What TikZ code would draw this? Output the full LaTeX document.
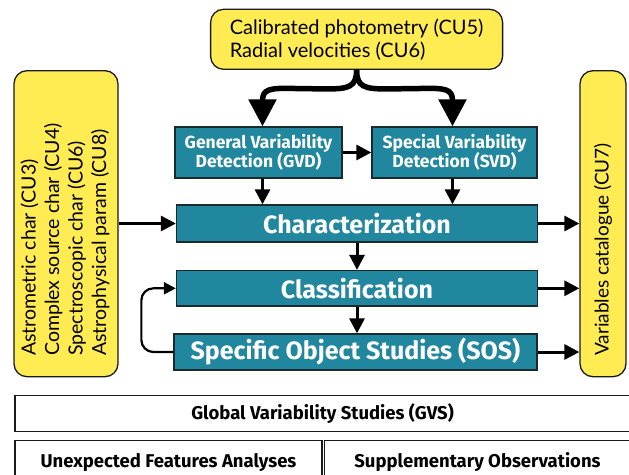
\documentclass[tikz,border=0pt]{standalone}
\usepackage{fontspec}
\setmainfont{Lato}
\newfontfamily\heavyfont{Fira Sans}
\usetikzlibrary{arrows.meta,calc}
\definecolor{tealbox}{HTML}{21879F}
\definecolor{yellowbox}{HTML}{FFEB52}
\definecolor{edge}{HTML}{1A1A1A}
\begin{document}
\begin{tikzpicture}[x=1pt,y=-1pt,
  yel/.style={draw=edge,line width=1.3pt,fill=yellowbox,rounded corners=13pt,inner sep=0pt},
  tbox/.style={draw=edge!85!tealbox,line width=1.3pt,fill=tealbox,text=white,inner sep=0pt,align=center},
  bigtext/.style={font=\heavyfont\bfseries\fontsize{25}{27}\selectfont},
  wbox/.style={draw=edge,line width=1.3pt,fill=white,font=\heavyfont\bfseries\fontsize{18.5}{20}\selectfont,inner sep=0pt},
  arr/.style={line width=3pt,-{Triangle[length=15pt,width=15pt]}},
  looparr/.style={line width=2.2pt,rounded corners=12pt,-{Triangle[length=12pt,width=12pt]}},
  bigarr/.style={line width=5.5pt,-{Triangle[length=27pt,width=27pt]}},
  rottext/.style={rotate=90,anchor=west,align=left,inner sep=0pt}
]
\useasboundingbox (0,0) rectangle (629,474);

% yellow input/output boxes
\node[yel,minimum width=292pt,minimum height=60pt,align=left,font=\fontsize{20}{23}\selectfont] (top) at (356.6,39.3)
  {Calibrated photometry (CU5)\\Radial velocities (CU6)};
\node[yel,minimum width=104pt,minimum height=306pt] (left) at (66,223.7) {};
\node[yel,minimum width=46pt,minimum height=306pt] (right) at (603,223.7) {};
\node[rottext,font=\fontsize{19.5}{23.5}\selectfont] (lefttext) at (65,356)
  {Astrometric char (CU3)\\Complex source char (CU4)\\Spectroscopic char (CU6)\\Astrophysical param (CU8)};
\node[rottext,font=\fontsize{19}{23.5}\selectfont] (righttext) at (603,356) {Variables catalogue (CU7)};

% teal process boxes
\node[tbox,minimum width=167pt,minimum height=51pt,font=\heavyfont\bfseries\fontsize{17.5}{19.5}\selectfont] (gvd) at (258.5,152.5)
  {General Variability\\Detection (GVD)};
\node[tbox,minimum width=165pt,minimum height=51pt,font=\heavyfont\bfseries\fontsize{17.5}{19.5}\selectfont] (svd) at (454.5,152.5)
  {Special Variability\\Detection (SVD)};
\node[tbox,bigtext,minimum width=361pt,minimum height=37pt] (char) at (357,223.5)
  {Characterization};
\node[tbox,bigtext,minimum width=361pt,minimum height=35.5pt] (cls) at (357,288.3)
  {Classification};
\node[tbox,bigtext,minimum width=363pt,minimum height=36pt] (sos) at (355.5,352)
  {Specific Object Studies (SOS)};

% white bottom boxes
\node[wbox,minimum width=615pt,minimum height=36pt] (gvs) at (322.5,413.7) {Global Variability Studies (GVS)};
\node[wbox,minimum width=307pt,minimum height=44pt] (ufa) at (168.5,462.5) {\raisebox{2pt}{Unexpected Features Analyses}};
\node[wbox,minimum width=306pt,minimum height=44pt] (supp) at (477.5,462.5) {\raisebox{2pt}{Supplementary Observations}};

% helper points
\coordinate (gdown) at ($(gvd.south)+(4,0)$);
\coordinate (sdown) at ($(svd.south)+(-2,0)$);
\coordinate (gin) at ($(gvd.north)+(4,0)$);
\coordinate (sin) at ($(svd.north)+(-2,0)$);

% forked arrows from the top box
\draw[bigarr] (top.south) .. controls ($(top.south)+(0,17)$) and ($(top.south)+(-8,19)$) .. ($(top.south)+(-30,19)$)
  -- ($(gin)+(22,-38)$) .. controls ($(gin)+(2,-38)$) and ($(gin)+(0,-34)$) .. ($(gin)+(0,-24)$)
  -- (gin);
\draw[bigarr] (top.south) .. controls ($(top.south)+(0,17)$) and ($(top.south)+(8,19)$) .. ($(top.south)+(30,19)$)
  -- ($(sin)+(-22,-38)$) .. controls ($(sin)+(-2,-38)$) and ($(sin)+(0,-34)$) .. ($(sin)+(0,-24)$)
  -- (sin);

% straight connectors
\draw[arr] (gvd.east) -- (svd.west);
\draw[arr] (gdown) -- (gdown |- char.north);
\draw[arr] (sdown) -- (sdown |- char.north);
\draw[arr] (left.east |- char.west) -- (char.west);
\draw[arr] (char.east) -- (char.east -| right.west);
\draw[arr] (char.south) -- (cls.north);
\draw[arr] (cls.south) -- (cls.south |- sos.north);
\draw[arr] (cls.east) -- (cls.east -| right.west);
\draw[arr] (sos.east) -- (sos.east -| right.west);
\draw[looparr] (sos.west) -- ++(-32,0) |- (cls.west);
\end{tikzpicture}
\end{document}
